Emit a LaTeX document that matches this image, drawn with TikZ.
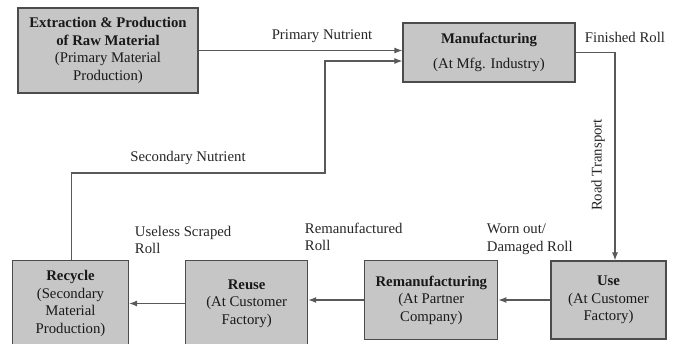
\documentclass[tikz,border=0pt]{standalone}
\usepackage{fontspec}
\setmainfont{Liberation Serif}
\usepackage{tikz}
\usetikzlibrary{arrows.meta}
\usetikzlibrary{calc}
\usetikzlibrary{positioning}
\tikzstyle{box} = [draw=black!70, fill=gray!45, thick, align=center, text=black!90]
\tikzstyle{arrow} = [thick, draw=black!65, -{Latex[length=2mm]}]
\tikzstyle{lbl} = [align=left, text=black!85]

\begin{document}
\begin{tikzpicture}[x=0.025cm, y=-0.025cm, font=\fontsize{10.5}{12.5}\selectfont]
	\useasboundingbox (0,0) rectangle (675,343);
	% Top row
	\node (extr) [box,
	minimum width = 4.5cm,
	minimum height = 2.125cm
	] at (108,50.5) {\textbf{Extraction \& Production}\\\textbf{of Raw Material}\\(Primary Material\\Production)};
	
	\node (manu) [box,
	minimum width = 4.3cm,
	minimum height = 1.475cm
	] at (489,52.5) {\textbf{Manufacturing}\\[5pt](At Mfg. Industry)};
	
	% Bottom row
	\node (use) [box,
	minimum width = 2.875cm,
	minimum height = 1.95cm
	] at (608.5,300) {\textbf{Use}\\(At Customer\\Factory)};
	
	\node (reman) [box,
	minimum width = 3.325cm,
	minimum height = 1.975cm,
	left=1.3cm of use] {\textbf{Remanufacturing}\\(At Partner\\Company)};
	
	\node (reuse) [box,
	minimum width = 3.05cm,
	minimum height = 2.15cm,
	left=1.4cm of reman.north west, anchor=north east] {\textbf{Reuse}\\(At Customer\\Factory)};
	
	\node (recyc) [box,
	minimum width = 2.9cm,
	minimum height = 2.15cm,
	left=1.4cm of reuse] {\textbf{Recycle}\\(Secondary\\Material\\Production)};
	
	% Connectors
	\draw [arrow] (extr.east) -- (extr.east -| manu.west);
	\coordinate (sbend) at (325,173);
	\draw [arrow] ($(recyc.north)+(1,0)$) |- (sbend) |- ($(manu.west)+(0,8.5)$);
	\draw [arrow] (manu.east) -| ($(use.north)+(6.5,0)$);
	\draw [arrow] (use.west |- reman) -- (reman.east);
	\draw [arrow] (reman.west) -- (reman.west -| reuse.east);
	\draw [arrow] (reuse) -- (recyc);
	
	% Labels
	\node (pn) [lbl] at (322,36) {Primary Nutrient};
	\node (fr) [lbl, anchor=west] at (580,37) {Finished Roll};
	\node (sn) [lbl] at (188,158) {Secondary Nutrient};
	\node (rt) [lbl, rotate=90] at (598,165) {Road Transport};
	\node (usr) [lbl, anchor=north west] at (130,221) {Useless Scraped\\Roll};
	\node (rmr) [lbl, anchor=north west] at (300,218) {Remanufactured\\Roll};
	\node (wdr) [lbl, anchor=north west] at (482,219) {Worn out/\\Damaged Roll};
\end{tikzpicture}
\end{document}
